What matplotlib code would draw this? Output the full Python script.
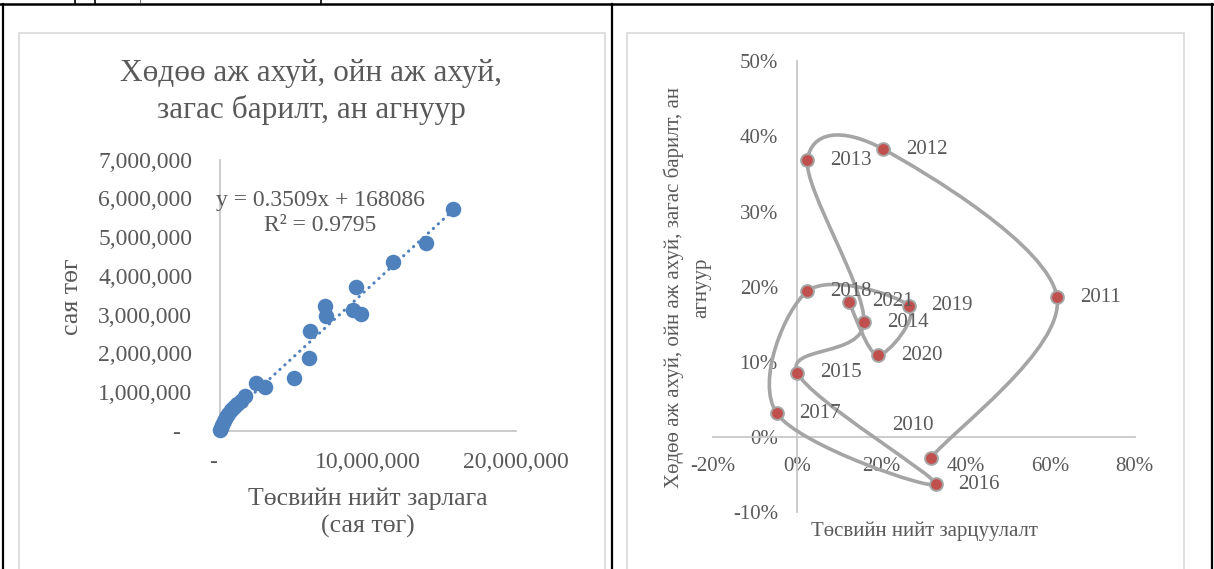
import numpy as np
import matplotlib.pyplot as plt
from matplotlib.path import Path
from matplotlib.patches import PathPatch, Rectangle
from matplotlib.lines import Line2D
from matplotlib.ticker import FuncFormatter, PercentFormatter, MultipleLocator

plt.rcParams['font.family'] = ['Liberation Serif', 'DejaVu Serif']
plt.rcParams['axes.unicode_minus'] = False

# left chart: budget spending vs agriculture spending (million tugrik)
spend = [0.03e6, 0.08e6, 0.15e6, 0.25e6, 0.40e6, 0.55e6, 0.75e6, 0.95e6, 1.15e6, 1.45e6,
         1.70e6, 2.40e6, 3.05e6, 4.97e6, 5.99e6, 6.10e6, 7.12e6, 7.17e6, 9.00e6, 9.22e6,
         9.54e6, 11.68e6, 13.90e6, 15.71e6]
agri = [0.02e6, 0.08e6, 0.15e6, 0.25e6, 0.35e6, 0.45e6, 0.55e6, 0.62e6, 0.70e6, 0.78e6,
        0.90e6, 1.23e6, 1.13e6, 1.36e6, 1.89e6, 2.59e6, 3.22e6, 2.96e6, 3.12e6, 3.72e6,
        3.02e6, 4.36e6, 4.84e6, 5.74e6]
slope, intercept = 0.3509, 168086
left_title = 'Хөдөө аж ахуй, ойн аж ахуй,\nзагас барилт, ан агнуур'

# right chart: growth rates by year
years = [2010, 2011, 2012, 2013, 2014, 2015, 2016, 2017, 2018, 2019, 2020, 2021]
spend_growth = [0.316, 0.616, 0.204, 0.024, 0.158, 0.000, 0.328, -0.049, 0.0235, 0.264, 0.191, 0.122]
agri_growth = [-0.028, 0.186, 0.383, 0.368, 0.153, 0.086, -0.0625, 0.032, 0.194, 0.175, 0.109, 0.180]

W, H = 1214, 569
TXT = '#595959'
AXC = '#C8C8C8'

fig = plt.figure(figsize=(W / 100, H / 100), dpi=100)


def rect(l, t, r, b):
    return [l / W, 1 - b / H, (r - l) / W, (b - t) / H]


def ftext(x, y, s, **kw):
    kw.setdefault('color', TXT)
    kw.setdefault('ha', 'center')
    kw.setdefault('va', 'center')
    return fig.text(x / W, 1 - y / H, s, **kw)


def fline(xs, ys, **kw):
    fig.add_artist(Line2D([x / W for x in xs], [1 - y / H for y in ys],
                          transform=fig.transFigure, **kw))


# table borders and chart frames
fline([0, W], [4.3, 4.3], color='black', lw=1.8)
for xv in [2.5, 612, 1211.5]:
    fline([xv, xv], [4, H], color='black', lw=1.6)
for xv in [75, 95, 321]:
    fline([xv, xv], [0, 4], color='black', lw=1.2)
fline([139.5, 139.5], [0, 2], color='#777777', lw=0.8)
for l, r in [(18.7, 605), (627.3, 1184)]:
    fig.add_artist(Rectangle((l / W, -0.05), (r - l) / W, 1 - 32.5 / H + 0.05,
                             transform=fig.transFigure, fill=False, ec='#D9D9D9', lw=1.2))

# ---- left chart
ax1 = fig.add_axes(rect(220, 159.7, 516, 431))
ax1.set_facecolor('none')
ax1.scatter(spend, agri, s=125, color='#4F81BD', linewidths=0, zorder=3, clip_on=False)
xs = np.array([min(spend), max(spend)])
ax1.plot(xs, slope * xs + intercept, color='#4F81BD', lw=2.2, ls=(0, (0.1, 2.1)),
         dash_capstyle='round', zorder=2)
ax1.set_xlim(0, 20e6)
ax1.set_ylim(0, 7e6)
ax1.xaxis.set_major_locator(MultipleLocator(10e6))
ax1.yaxis.set_major_locator(MultipleLocator(1e6))
acct = FuncFormatter(lambda v, p: '-  ' if abs(v) < 1 else f'{v:,.0f}')
ax1.xaxis.set_major_formatter(acct)
ax1.yaxis.set_major_formatter(acct)
for s in ['top', 'right']:
    ax1.spines[s].set_visible(False)
for s in ['left', 'bottom']:
    ax1.spines[s].set_color(AXC)
    ax1.spines[s].set_linewidth(1.3)
ax1.tick_params(axis='both', length=0, colors=TXT, labelsize=17)
ax1.tick_params(axis='y', pad=20)
ax1.tick_params(axis='x', pad=15)

ftext(311, 92, left_title, fontsize=22.5, linespacing=1.27)
ftext(320, 213, 'y = 0.3509x + 168086\nR² = 0.9795', fontsize=17, linespacing=1.2)
ftext(72, 297, 'сая төг', fontsize=18.5, rotation=90)
ftext(368, 513, 'Төсвийн нийт зарлага\n(сая төг)', fontsize=18.5, linespacing=1.25)

# ---- right chart
ax2 = fig.add_axes(rect(713, 61.2, 1134.6, 512.4))
ax2.set_facecolor('none')
ax2.set_xlim(-0.2, 0.8)
ax2.set_ylim(-0.1, 0.5)
ax2.xaxis.set_major_locator(MultipleLocator(0.2))
ax2.yaxis.set_major_locator(MultipleLocator(0.1))
ax2.xaxis.set_major_formatter(PercentFormatter(1, decimals=0))
ax2.yaxis.set_major_formatter(PercentFormatter(1, decimals=0))
for s in ['top', 'right']:
    ax2.spines[s].set_visible(False)
for s in ['left', 'bottom']:
    ax2.spines[s].set_position(('data', 0))
    ax2.spines[s].set_color(AXC)
    ax2.spines[s].set_linewidth(1.3)
ax2.tick_params(axis='both', length=0, colors=TXT, labelsize=15)
ax2.tick_params(axis='y', pad=14)
ax2.tick_params(axis='x', pad=14)

# smoothed connecting line (Catmull-Rom as cubic Bezier)
pts = np.column_stack([spend_growth, agri_growth])
n = len(pts)
verts = [pts[0]]
codes = [Path.MOVETO]
for i in range(n - 1):
    p0, p1, p2, p3 = pts[max(i - 1, 0)], pts[i], pts[i + 1], pts[min(i + 2, n - 1)]
    verts += [p1 + (p2 - p0) / 6, p2 - (p3 - p1) / 6, p2]
    codes += [Path.CURVE4] * 3
ax2.add_patch(PathPatch(Path(verts, codes), facecolor='none', edgecolor='#A5A5A5',
                        lw=2.6, zorder=3, clip_on=False))
ax2.plot(spend_growth, agri_growth, 'o', ms=9.2, mfc='#C0504D', mec='#A5A5A5', mew=1.4,
         ls='none', zorder=4, clip_on=False)
for yr, xv, yv in zip(years, spend_growth, agri_growth):
    off = (-28, 23.5) if yr == 2010 else (16.5, 0)
    ax2.annotate(str(yr), (xv, yv), xytext=off, textcoords='offset points',
                 ha='left', va='center', fontsize=15, color=TXT, zorder=5)

ftext(924, 531, 'Төсвийн нийт зарцуулалт', fontsize=15)
ftext(673.6, 288, 'Хөдөө аж ахуй, ойн аж ахуй, загас барилт, ан', fontsize=15, rotation=90)
ftext(701.7, 288, 'агнуур', fontsize=15, rotation=90)

fig.savefig('out.png', dpi=100, facecolor='white')
